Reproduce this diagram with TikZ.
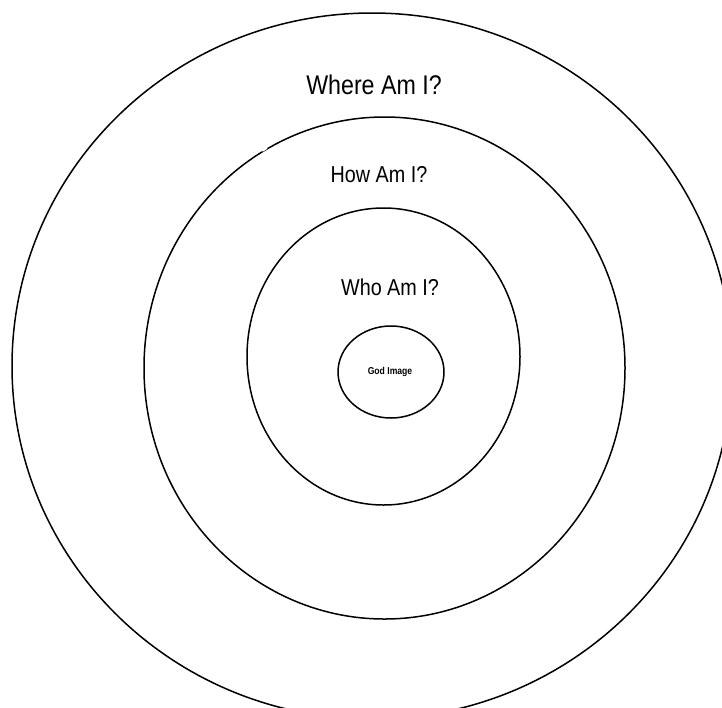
\documentclass[tikz,border=0pt]{standalone}
\usepackage{fontspec}
\setmainfont{Liberation Sans}
\usetikzlibrary{shapes.geometric}
\begin{document}
\begin{tikzpicture}[x=1pt,y=-1pt,
  ring/.style={draw=black,line width=1.5pt,ellipse,inner sep=0pt,fill=none},
  lbl/.style={inner sep=0pt,anchor=base,xscale=0.86}]
\useasboundingbox (0,0) rectangle (722,707);
\clip (0,0) rectangle (722,707);
\node[ring,minimum width=720pt,minimum height=706pt] (outer) at (372,366) {};
\node[ring,minimum width=481pt,minimum height=502pt] (middle) at (384.5,368) {};
\node[ring,minimum width=273pt,minimum height=297pt] (inner) at (383.5,356.5) {};
\node[ring,minimum width=106pt,minimum height=92pt] (core) at (391,372) {};
\draw[white,line width=3pt] (262,150.5) -- (266.5,147.5);
\node[lbl,font=\fontsize{27}{30}\selectfont] (where) at (374,94) {Where Am I?};
\node[lbl,font=\fontsize{23}{26}\selectfont] (how) at (379,182) {How Am I?};
\node[lbl,font=\fontsize{23}{26}\selectfont] (who) at (390,295) {Who Am I?};
\node[lbl,font=\fontsize{10}{12}\selectfont\bfseries] (god) at (390,374) {God Image};
\end{tikzpicture}
\end{document}
